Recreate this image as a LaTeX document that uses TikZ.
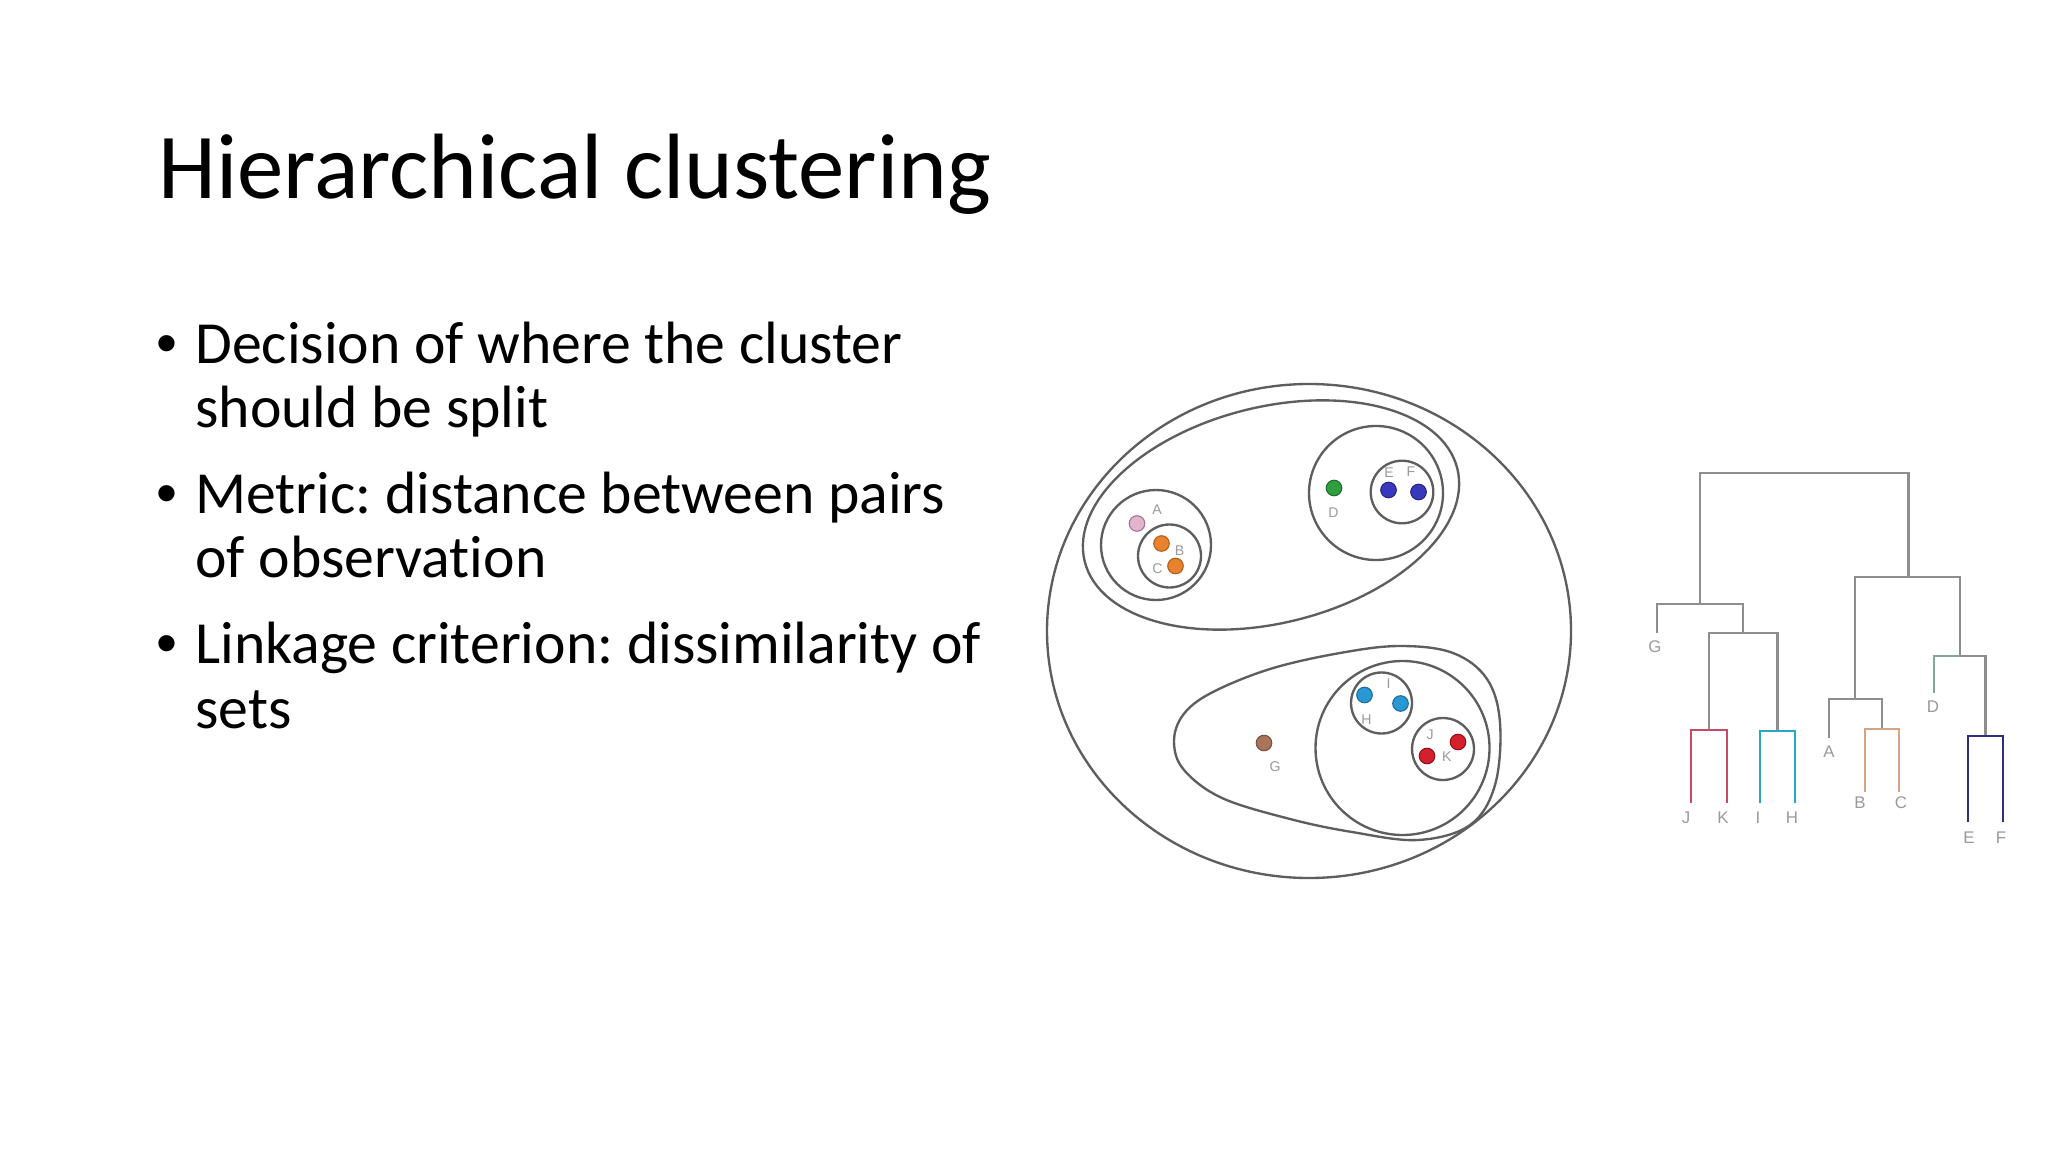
\documentclass[tikz,border=0pt]{standalone}
\usepackage{fontspec}
\setmainfont{Carlito}[Ligatures=NoCommon]
\newfontfamily\lblfont{Liberation Sans}
\frenchspacing
\definecolor{ln}{HTML}{5E5E5E}
\definecolor{lbl}{HTML}{9A9A9A}
\definecolor{dgr}{HTML}{8E8E8E}
\definecolor{cA}{HTML}{E2B4CE}\definecolor{cAd}{HTML}{A87090}
\definecolor{cB}{HTML}{E8822C}\definecolor{cBd}{HTML}{B05E18}
\definecolor{cD}{HTML}{2E9E3E}\definecolor{cDd}{HTML}{1E6E2A}
\definecolor{cE}{HTML}{3838BC}\definecolor{cEd}{HTML}{24248A}
\definecolor{cG}{HTML}{A8745A}\definecolor{cGd}{HTML}{7A5040}
\definecolor{cH}{HTML}{2A98D2}\definecolor{cHd}{HTML}{1C6E9E}
\definecolor{cJ}{HTML}{D4202C}\definecolor{cJd}{HTML}{9A1018}
\definecolor{dJK}{HTML}{C84868}
\definecolor{dIH}{HTML}{28A8C0}
\definecolor{dBC}{HTML}{D4A484}
\definecolor{dEF}{HTML}{2E2E7A}
\definecolor{dDc}{HTML}{7FA898}
\tikzset{
  cl/.style={draw=ln, line width=1.1pt},
  dot/.style={circle, inner sep=0pt, minimum size=7.3pt, line width=0.5pt},
  clab/.style={text=lbl, font=\lblfont\fontsize{6.6}{7}\selectfont, inner sep=0pt},
  dlab/.style={text=lbl, font=\lblfont\fontsize{7.9}{9}\selectfont, inner sep=0pt},
  dline/.style={draw=dgr, line width=1.05pt},
  bodyline/.style={anchor=base west, inner sep=0pt, font=\frenchspacing\fontsize{28}{32}\selectfont},
  bul/.style={anchor=base, inner sep=0pt, font=\lblfont\fontsize{28}{32}\selectfont}
}
\begin{document}
\begin{tikzpicture}[x=0.46875pt, y=-0.46875pt]
\useasboundingbox[fill=white] (0,0) rectangle (2048,1152);

% ---------- text ----------
\node[anchor=base west, inner sep=0pt, font=\fontsize{43.5}{52}\selectfont] (title) at (158,199) {Hierarchical clustering};

\node[bul] (b1) at (166.7,363) {•};
\node[bodyline] (t1a) at (195,363) {Decision of where the cluster};
\node[bodyline] (t1b) at (195,427) {should be split};
\node[bul] (b2) at (166.7,513) {•};
\node[bodyline] (t2a) at (195,513) {Metric: distance between pairs};
\node[bodyline] (t2b) at (195,577) {of observation};
\node[bul] (b3) at (166.7,663) {•};
\node[bodyline] (t3a) at (195,663) {Linkage criterion: dissimilarity of};
\node[bodyline] (t3b) at (195,728) {sets};

% ---------- cluster diagram ----------
\draw[cl] (1309,631) ellipse [x radius=262, y radius=247];
\draw[cl, rotate around={14:(1271,515)}] (1271,515) ellipse [x radius=192, y radius=108];
\draw[cl] (1156,545) circle [radius=55];
\draw[cl] (1169.5,556) circle [radius=31.5];
\draw[cl] (1376,493) circle [radius=67];
\draw[cl] (1402,492) circle [radius=31.3];
\draw[cl] plot[smooth cycle, tension=0.6] coordinates {
  (1174,742) (1183,715) (1211,693) (1270,669) (1340,653) (1400,646)
  (1453,653) (1487,679) (1500,723) (1495,785) (1470,825) (1418,840)
  (1352,832) (1290,819) (1222,798) (1184,770)};
\draw[cl] (1402.5,748) circle [radius=87];
\draw[cl] (1381.5,703) circle [radius=30.5];
\draw[cl] (1443,749) circle [radius=31];

\node[dot, fill=cA, draw=cAd] (pA) at (1137,523.5) {};
\node[dot, fill=cB, draw=cBd] (pB) at (1161.5,543.5) {};
\node[dot, fill=cB, draw=cBd] (pC) at (1175.5,566) {};
\node[dot, fill=cD, draw=cDd] (pD) at (1334,488) {};
\node[dot, fill=cE, draw=cEd] (pE) at (1388.5,490) {};
\node[dot, fill=cE, draw=cEd] (pF) at (1418.5,492) {};
\node[dot, fill=cG, draw=cGd] (pG) at (1264,743) {};
\node[dot, fill=cH, draw=cHd] (pH) at (1364.5,695) {};
\node[dot, fill=cH, draw=cHd] (pI) at (1400.5,703.5) {};
\node[dot, fill=cJ, draw=cJd] (pJ) at (1427,756) {};
\node[dot, fill=cJ, draw=cJd] (pK) at (1458,742) {};

\node[clab] (lA) at (1157,510) {A};
\node[clab] (lB) at (1179.5,551) {B};
\node[clab] (lC) at (1157.5,569) {C};
\node[clab] (lD) at (1333.5,512.5) {D};
\node[clab] (lE) at (1389,473) {E};
\node[clab] (lF) at (1411,472) {F};
\node[clab] (lG) at (1275,767) {G};
\node[clab] (lH) at (1366.5,719.5) {H};
\node[clab] (lI) at (1388.5,683.5) {I};
\node[clab] (lJ) at (1430,735) {J};
\node[clab] (lK) at (1446.7,757) {K};

% ---------- dendrogram ----------
\coordinate (dTop) at (1803.5,473);
\coordinate (dL) at (1700,604);
\coordinate (dR) at (1908.5,577);
\coordinate (dLR) at (1743,633);
\coordinate (mJK) at (1709,730);
\coordinate (mIH) at (1777.5,731);
\coordinate (mABC) at (1855,699);
\coordinate (mBC) at (1882,729);
\coordinate (mDEF) at (1960,656);
\coordinate (mEF) at (1985.5,736);
\coordinate (fG) at (1657,633);
\coordinate (fJ) at (1691,803);
\coordinate (fK) at (1727,803);
\coordinate (fI) at (1760,803);
\coordinate (fH) at (1795,803);
\coordinate (fA) at (1829,738);
\coordinate (fB) at (1865,792);
\coordinate (fC) at (1899,792);
\coordinate (fD) at (1934,693);
\coordinate (fE) at (1968,822);
\coordinate (fF) at (2003,822);

\draw[dline] (dL) |- (dTop) -| (dR);
\draw[dline] (fG) |- (dL) -| (dLR);
\draw[dline] (mJK) |- (dLR) -| (mIH);
\draw[dline, draw=dJK] (fJ) |- (mJK) -| (fK);
\draw[dline, draw=dIH] (fI) |- (mIH) -| (fH);
\draw[dline] (mABC) |- (dR) -| (mDEF);
\draw[dline] (fA) |- (mABC) -| (mBC);
\draw[dline, draw=dBC] (fB) |- (mBC) -| (fC);
\draw[dline, draw=dDc] (fD) |- (mDEF);
\draw[dline] (mDEF) -| (mEF);
\draw[dline, draw=dEF] (fE) |- (mEF) -| (fF);

\node[dlab] (dG) at (1655,647) {G};
\node[dlab] (dJ) at (1686,818) {J};
\node[dlab] (dK) at (1723,818) {K};
\node[dlab] (dI) at (1758,818) {I};
\node[dlab] (dH) at (1792,818) {H};
\node[dlab] (dA) at (1829,752) {A};
\node[dlab] (dB) at (1860,803) {B};
\node[dlab] (dC) at (1901,803) {C};
\node[dlab] (dD) at (1933,707) {D};
\node[dlab] (dE) at (1969,838) {E};
\node[dlab] (dF) at (2001,838) {F};
\end{tikzpicture}
\end{document}
